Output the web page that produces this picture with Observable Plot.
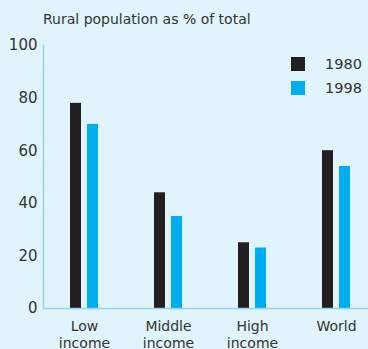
<!DOCTYPE html>
<html>
<head>
<meta charset="utf-8">
<script src="https://cdn.jsdelivr.net/npm/d3@7"></script>
<script src="https://cdn.jsdelivr.net/npm/@observablehq/plot@0.6"></script>
<style>
  html, body { margin: 0; padding: 0; background: #e1f4fb; }
  #wrap { position: relative; width: 368px; height: 349px; overflow: hidden; background: #e1f4fb; font-family: "DejaVu Sans", sans-serif; color: #333; }
  #title { position: absolute; left: 43px; top: 11px; font-size: 14px; line-height: 16px; color: #333; }
  #legend { position: absolute; left: 291px; top: 57px; font-size: 14.5px; color: #333; }
  .item { display: flex; align-items: center; height: 14px; margin-bottom: 10px; }
  .sw { width: 14px; height: 14px; margin-right: 20px; }
  svg { position: absolute; left: 0; top: 0; }
</style>
</head>
<body>
<div id="wrap">
  <div id="title">Rural population as % of total</div>
  <div id="legend"></div>
</div>
<script>
const categories = ["Low\nincome", "Middle\nincome", "High\nincome", "World"];
const years = ["1980", "1998"];
const values1980 = [78, 44, 25, 60];
const values1998 = [70, 35, 23, 54];
const yTicks = [0, 20, 40, 60, 80, 100];
const colors = ["#231f20", "#00aeef"];

const data = [];
categories.forEach((c, i) => {
  data.push({cat: c, year: years[0], value: values1980[i]});
  data.push({cat: c, year: years[1], value: values1998[i]});
});

const axisColor = "#8fd3f0";

const chart = Plot.plot({
  width: 368,
  height: 349,
  marginTop: 45,
  marginBottom: 41,
  marginLeft: 43,
  marginRight: 0,
  style: {background: "transparent", fontFamily: "DejaVu Sans, sans-serif", fontSize: "14px", color: "#333"},
  x: {domain: categories, range: [42, 378], padding: 0, axis: null},
  y: {domain: [0, 100], axis: null},
  color: {domain: years, range: colors},
  marks: [
    Plot.barY(data.filter(d => d.year === years[0]), {x: "cat", y: "value", fill: "year", insetLeft: 28, insetRight: 45}),
    Plot.barY(data.filter(d => d.year === years[1]), {x: "cat", y: "value", fill: "year", insetLeft: 45, insetRight: 28}),
    Plot.ruleY([0], {stroke: axisColor, strokeWidth: 1.5}),
    Plot.frame({anchor: "left", stroke: axisColor, strokeWidth: 1.5}),
    Plot.axisY(yTicks, {ticks: yTicks, tickSize: 0, tickPadding: 6, fontSize: 15, fill: "#333", anchor: "left", label: null}),
    Plot.axisX({tickSize: 0, tickPadding: 10, fontSize: 14, fill: "#333", lineHeight: 1.25, label: null})
  ]
});
document.getElementById("wrap").prepend(chart);

const lg = document.getElementById("legend");
years.forEach((y, i) => {
  const it = document.createElement("div");
  it.className = "item";
  it.innerHTML = `<div class="sw" style="background:${colors[i]}"></div><span>${y}</span>`;
  lg.appendChild(it);
});
</script>
</body>
</html>
